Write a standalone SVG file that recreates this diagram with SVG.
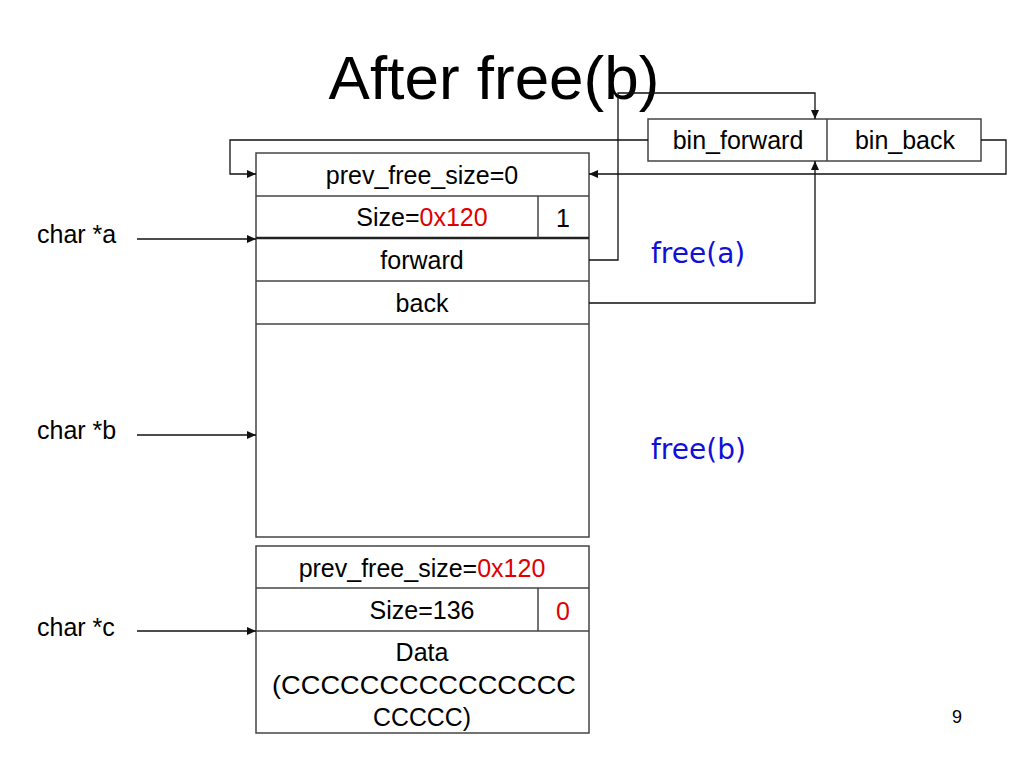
<svg xmlns="http://www.w3.org/2000/svg" width="1024" height="768" viewBox="0 0 1024 768">
<style>
.box{fill:#fff;stroke:#444;stroke-width:1.5}
.t{font-family:"Liberation Sans",Arial,sans-serif;font-size:25px;fill:#000;text-anchor:middle}
.l{font-family:"Liberation Sans",Arial,sans-serif;font-size:25px;fill:#000}
.red{fill:#e00000}
.blue{font-family:"Comic Sans MS","DejaVu Sans",sans-serif;font-size:28px;fill:#1010d8}
.c{fill:none;stroke:#111;stroke-width:1.3}
</style>
<defs>
<marker id="ah" markerWidth="10" markerHeight="8" refX="9" refY="4" orient="auto" markerUnits="userSpaceOnUse">
<path d="M0,0 L9,4 L0,8 Z" fill="#111"/>
</marker>
</defs>
<rect width="1024" height="768" fill="#fff"/>
<text x="494" y="99" font-family="Liberation Sans,Arial,sans-serif" font-size="62" text-anchor="middle">After free(b)</text>

<g id="chunk-b">
<rect class="box" x="256" y="153" width="333" height="384"/>
<line class="box" x1="256" y1="196" x2="589" y2="196"/>
<line class="box" x1="256" y1="238" x2="589" y2="238" style="stroke-width:2.5;stroke:#222"/>
<line class="box" x1="256" y1="281" x2="589" y2="281"/>
<line class="box" x1="256" y1="324" x2="589" y2="324"/>
<line class="box" x1="538" y1="196" x2="538" y2="238"/>
<text class="t" x="422" y="184">prev_free_size=0</text>
<text class="t" x="422" y="226">Size=<tspan class="red">0x120</tspan></text>
<text class="t" x="563" y="227">1</text>
<text class="t" x="422" y="269">forward</text>
<text class="t" x="422" y="312">back</text>
</g>

<g id="chunk-c">
<rect class="box" x="256" y="546" width="333" height="187"/>
<line class="box" x1="256" y1="588" x2="589" y2="588"/>
<line class="box" x1="256" y1="631" x2="589" y2="631"/>
<line class="box" x1="538" y1="588" x2="538" y2="631"/>
<text class="t" x="422" y="577">prev_free_size=<tspan class="red">0x120</tspan></text>
<text class="t" x="422" y="619">Size=136</text>
<text class="t red" x="563" y="620">0</text>
<text class="t" x="422" y="661">Data</text>
<text class="t" x="424" y="694" textLength="304" lengthAdjust="spacingAndGlyphs">(CCCCCCCCCCCCCCC</text>
<text class="t" x="422" y="726" textLength="98" lengthAdjust="spacingAndGlyphs">CCCCC)</text>
</g>

<g id="bin">
<rect class="box" x="648" y="119" width="333" height="42"/>
<line class="box" x1="827" y1="119" x2="827" y2="161"/>
<text class="t" x="738" y="149">bin_forward</text>
<text class="t" x="905" y="149">bin_back</text>
</g>

<g id="labels">
<text class="l" x="37" y="243">char *a</text>
<text class="l" x="37" y="439">char *b</text>
<text class="l" x="37" y="636">char *c</text>
<text class="blue" x="651" y="263">free(a)</text>
<text class="blue" x="651" y="459">free(b)</text>
<text x="957" y="723" font-family="Liberation Sans,Arial,sans-serif" font-size="18" text-anchor="middle">9</text>
</g>

<g id="connectors">
<line class="c" x1="137" y1="239" x2="256" y2="239" marker-end="url(#ah)"/>
<line class="c" x1="137" y1="435" x2="256" y2="435" marker-end="url(#ah)"/>
<line class="c" x1="137" y1="631" x2="256" y2="631" marker-end="url(#ah)"/>
<polyline class="c" points="589,260 618,260 618,93 815,93 815,119" marker-end="url(#ah)"/>
<polyline class="c" points="589,303 815,303 815,161" marker-end="url(#ah)"/>
<polyline class="c" points="648,140 230,140 230,174 256,174" marker-end="url(#ah)"/>
<polyline class="c" points="981,140 1006,140 1006,174 589,174" marker-end="url(#ah)"/>
</g>
</svg>
